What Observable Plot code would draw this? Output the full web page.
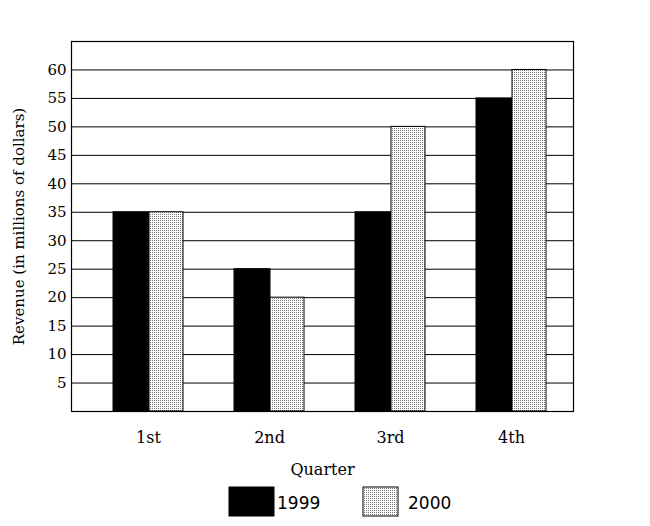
<!DOCTYPE html>
<html>
<head>
<meta charset="utf-8">
<script src="https://cdn.jsdelivr.net/npm/d3@7"></script>
<script src="https://cdn.jsdelivr.net/npm/@observablehq/plot@0.6"></script>
<style>
  body { margin: 0; background: #fff; }
  #legend { position: relative; height: 46px; width: 650px; font-family: "DejaVu Sans", sans-serif; font-size: 17px; }
</style>
</head>
<body>
<div id="chart"></div>
<div id="legend"></div>
<script>
const quarters = ["1st", "2nd", "3rd", "4th"];
const rev1999 = [35, 25, 35, 55];
const rev2000 = [35, 20, 50, 60];
const yTicks = [5, 10, 15, 20, 25, 30, 35, 40, 45, 50, 55, 60];
const years = ["1999", "2000"];

const d1999 = quarters.map((q, i) => ({quarter: q, value: rev1999[i]}));
const d2000 = quarters.map((q, i) => ({quarter: q, value: rev2000[i]}));

const ns = "http://www.w3.org/2000/svg";
const defsSvg = document.createElementNS(ns, "svg");
defsSvg.setAttribute("width", 0);
defsSvg.setAttribute("height", 0);
defsSvg.style.position = "absolute";
defsSvg.innerHTML = `<defs><pattern id="dots" width="2" height="2" patternUnits="userSpaceOnUse">
<rect width="2" height="2" fill="#fff"/><rect width="1" height="1" fill="#777"/></pattern></defs>`;
document.body.appendChild(defsSvg);

const serif = "'DejaVu Serif', serif";

const chart = Plot.plot({
  width: 650,
  height: 480,
  marginLeft: 71,
  marginRight: 77,
  marginTop: 41,
  marginBottom: 69,
  style: {fontFamily: serif, fontSize: "16px", color: "#000", background: "#fff"},
  x: {domain: quarters, range: [86.25, 572.25], paddingInner: 0.424, paddingOuter: 0.212, align: 0.5},
  y: {domain: [0, 65]},
  marks: [
    Plot.ruleY(yTicks, {stroke: "#000", strokeWidth: 1}),
    Plot.barY(d1999, {x: "quarter", y: "value", fill: "#000", stroke: "#000", insetLeft: 0, insetRight: 34}),
    Plot.barY(d2000, {x: "quarter", y: "value", fill: "url(#dots)", stroke: "#000", insetLeft: 36, insetRight: 0}),
    Plot.frame({stroke: "#000", strokeWidth: 1.2}),
    Plot.axisY({ticks: yTicks, tickSize: 0, tickPadding: 5, fontSize: 15, label: "Revenue (in millions of dollars)", labelAnchor: "center", labelOffset: 58, labelArrow: false}),
    Plot.axisX({tickSize: 0, tickPadding: 20, label: "Quarter", labelAnchor: "center", labelOffset: 63, labelArrow: false})
  ]
});
document.getElementById("chart").appendChild(chart);

const legendColors = {"1999": "#000", "2000": "url(#dots)"};
const legendPos = {"1999": [229, 277], "2000": [363, 408]};
const lg = document.getElementById("legend");
const lsvg = document.createElementNS(ns, "svg");
lsvg.setAttribute("width", 650);
lsvg.setAttribute("height", 46);
years.forEach(y => {
  const [sx, tx] = legendPos[y];
  const r = document.createElementNS(ns, "rect");
  r.setAttribute("x", sx); r.setAttribute("y", 7);
  r.setAttribute("width", y === "1999" ? 45 : 35); r.setAttribute("height", 29);
  r.setAttribute("fill", legendColors[y]); r.setAttribute("stroke", "#000");
  lsvg.appendChild(r);
  const t = document.createElementNS(ns, "text");
  t.setAttribute("x", tx); t.setAttribute("y", 29);
  t.setAttribute("font-family", "'DejaVu Sans', sans-serif");
  t.setAttribute("font-size", 17);
  t.textContent = y;
  lsvg.appendChild(t);
});
lg.appendChild(lsvg);
</script>
</body>
</html>
